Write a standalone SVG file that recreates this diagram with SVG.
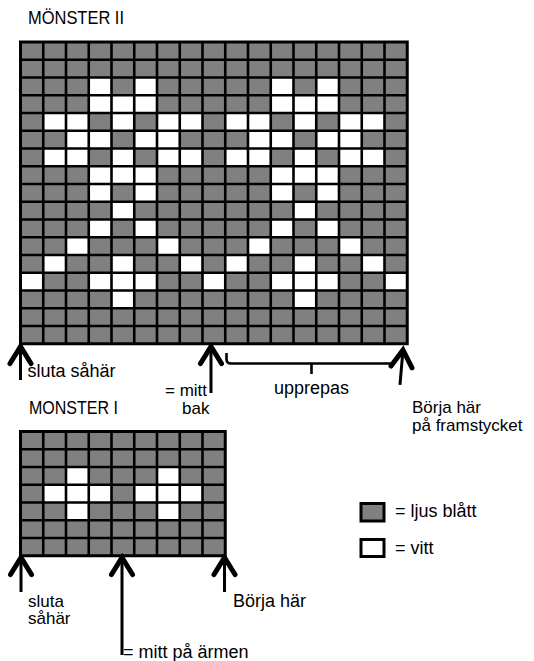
<svg xmlns="http://www.w3.org/2000/svg" xmlns:xlink="http://www.w3.org/1999/xlink" width="534" height="661" viewBox="0 0 534 661">
<style>
.bg{fill:#808080}
.w{fill:#ffffff}
.gl{fill:none;stroke:#000;stroke-width:2.6}
.ob{fill:none;stroke:#000;stroke-width:3}
.t{font-family:"Liberation Sans",Arial,sans-serif;font-size:18px;fill:#000}
.t2{font-family:"Liberation Sans",Arial,sans-serif;font-size:17px;fill:#000}
.sh{stroke:#000;stroke-width:3;fill:none;stroke-linecap:butt}
.hd{stroke:#000;stroke-width:5;fill:none;stroke-linejoin:miter;stroke-linecap:round}
.br{stroke:#000;stroke-width:2.6;fill:none}
</style>
<defs>
<rect id="c" width="22.75" height="17.75"/>
<path id="ah" d="M-10.5,17 L0,0 L10.5,17"/>
</defs>
<rect width="534" height="661" fill="#fff"/>

<g id="title2"><text class="t" x="28" y="24" textLength="96" lengthAdjust="spacingAndGlyphs">MÖNSTER II</text></g>

<g id="grid-monster2">
<rect class="bg" x="20.5" y="42" width="386.75" height="301.75"/>
<g class="w">
<use xlink:href="#c" x="88.75" y="77.5"/><use xlink:href="#c" x="134.25" y="77.5"/><use xlink:href="#c" x="270.75" y="77.5"/><use xlink:href="#c" x="316.25" y="77.5"/>
<use xlink:href="#c" x="88.75" y="95.25"/><use xlink:href="#c" x="111.5" y="95.25"/><use xlink:href="#c" x="134.25" y="95.25"/><use xlink:href="#c" x="270.75" y="95.25"/><use xlink:href="#c" x="293.5" y="95.25"/><use xlink:href="#c" x="316.25" y="95.25"/>
<use xlink:href="#c" x="43.25" y="113"/><use xlink:href="#c" x="66" y="113"/><use xlink:href="#c" x="111.5" y="113"/><use xlink:href="#c" x="157" y="113"/><use xlink:href="#c" x="179.75" y="113"/><use xlink:href="#c" x="225.25" y="113"/><use xlink:href="#c" x="248" y="113"/><use xlink:href="#c" x="293.5" y="113"/><use xlink:href="#c" x="339" y="113"/><use xlink:href="#c" x="361.75" y="113"/>
<use xlink:href="#c" x="66" y="130.75"/><use xlink:href="#c" x="88.75" y="130.75"/><use xlink:href="#c" x="134.25" y="130.75"/><use xlink:href="#c" x="157" y="130.75"/><use xlink:href="#c" x="248" y="130.75"/><use xlink:href="#c" x="270.75" y="130.75"/><use xlink:href="#c" x="316.25" y="130.75"/><use xlink:href="#c" x="339" y="130.75"/>
<use xlink:href="#c" x="43.25" y="148.5"/><use xlink:href="#c" x="66" y="148.5"/><use xlink:href="#c" x="111.5" y="148.5"/><use xlink:href="#c" x="157" y="148.5"/><use xlink:href="#c" x="179.75" y="148.5"/><use xlink:href="#c" x="225.25" y="148.5"/><use xlink:href="#c" x="248" y="148.5"/><use xlink:href="#c" x="293.5" y="148.5"/><use xlink:href="#c" x="339" y="148.5"/><use xlink:href="#c" x="361.75" y="148.5"/>
<use xlink:href="#c" x="88.75" y="166.25"/><use xlink:href="#c" x="111.5" y="166.25"/><use xlink:href="#c" x="134.25" y="166.25"/><use xlink:href="#c" x="270.75" y="166.25"/><use xlink:href="#c" x="293.5" y="166.25"/><use xlink:href="#c" x="316.25" y="166.25"/>
<use xlink:href="#c" x="88.75" y="184"/><use xlink:href="#c" x="134.25" y="184"/><use xlink:href="#c" x="270.75" y="184"/><use xlink:href="#c" x="316.25" y="184"/>
<use xlink:href="#c" x="111.5" y="201.75"/><use xlink:href="#c" x="293.5" y="201.75"/>
<use xlink:href="#c" x="88.75" y="219.5"/><use xlink:href="#c" x="134.25" y="219.5"/><use xlink:href="#c" x="270.75" y="219.5"/><use xlink:href="#c" x="316.25" y="219.5"/>
<use xlink:href="#c" x="66" y="237.25"/><use xlink:href="#c" x="157" y="237.25"/><use xlink:href="#c" x="248" y="237.25"/><use xlink:href="#c" x="339" y="237.25"/>
<use xlink:href="#c" x="43.25" y="255"/><use xlink:href="#c" x="111.5" y="255"/><use xlink:href="#c" x="179.75" y="255"/><use xlink:href="#c" x="225.25" y="255"/><use xlink:href="#c" x="293.5" y="255"/><use xlink:href="#c" x="361.75" y="255"/>
<use xlink:href="#c" x="20.5" y="272.75"/><use xlink:href="#c" x="88.75" y="272.75"/><use xlink:href="#c" x="111.5" y="272.75"/><use xlink:href="#c" x="134.25" y="272.75"/><use xlink:href="#c" x="202.5" y="272.75"/><use xlink:href="#c" x="270.75" y="272.75"/><use xlink:href="#c" x="293.5" y="272.75"/><use xlink:href="#c" x="316.25" y="272.75"/><use xlink:href="#c" x="384.5" y="272.75"/>
<use xlink:href="#c" x="111.5" y="290.5"/><use xlink:href="#c" x="293.5" y="290.5"/>
</g>
<path class="gl" d="M43.25,42V343.75M66,42V343.75M88.75,42V343.75M111.5,42V343.75M134.25,42V343.75M157,42V343.75M179.75,42V343.75M202.5,42V343.75M225.25,42V343.75M248,42V343.75M270.75,42V343.75M293.5,42V343.75M316.25,42V343.75M339,42V343.75M361.75,42V343.75M384.5,42V343.75
M20.5,59.75H407.25M20.5,77.5H407.25M20.5,95.25H407.25M20.5,113H407.25M20.5,130.75H407.25M20.5,148.5H407.25M20.5,166.25H407.25M20.5,184H407.25M20.5,201.75H407.25M20.5,219.5H407.25M20.5,237.25H407.25M20.5,255H407.25M20.5,272.75H407.25M20.5,290.5H407.25M20.5,308.25H407.25M20.5,326H407.25"/>
<rect class="ob" x="20.5" y="42" width="386.75" height="301.75"/>
</g>

<g id="grid-monster1">
<rect class="bg" x="20.5" y="431.5" width="204.75" height="124.25"/>
<g class="w">
<use xlink:href="#c" x="66" y="467"/><use xlink:href="#c" x="157" y="467"/>
<use xlink:href="#c" x="43.25" y="484.75"/><use xlink:href="#c" x="66" y="484.75"/><use xlink:href="#c" x="88.75" y="484.75"/><use xlink:href="#c" x="134.25" y="484.75"/><use xlink:href="#c" x="157" y="484.75"/><use xlink:href="#c" x="179.75" y="484.75"/>
<use xlink:href="#c" x="66" y="502.5"/><use xlink:href="#c" x="157" y="502.5"/>
</g>
<path class="gl" d="M43.25,431.5V555.75M66,431.5V555.75M88.75,431.5V555.75M111.5,431.5V555.75M134.25,431.5V555.75M157,431.5V555.75M179.75,431.5V555.75M202.5,431.5V555.75
M20.5,449.25H225.25M20.5,467H225.25M20.5,484.75H225.25M20.5,502.5H225.25M20.5,520.25H225.25M20.5,538H225.25"/>
<rect class="ob" x="20.5" y="431.5" width="204.75" height="124.25"/>
</g>

<g id="connectors">
<line class="sh" x1="20.5" y1="348" x2="20.5" y2="380"/>
<use class="hd" xlink:href="#ah" x="20.5" y="346.5"/>
<line class="sh" x1="211" y1="348" x2="211" y2="393"/>
<use class="hd" xlink:href="#ah" x="211" y="346.5"/>
<g transform="translate(403,350) rotate(5)">
<line class="sh" x1="0" y1="2" x2="0" y2="35"/>
<use class="hd" xlink:href="#ah"/>
</g>
<path class="br" d="M226.5,353V359Q226.5,363.5 231,363.5H395M311.5,363.5V374"/>
<line class="sh" x1="21" y1="559" x2="21" y2="592"/>
<use class="hd" xlink:href="#ah" x="21" y="557.5"/>
<line class="sh" x1="122" y1="559" x2="122" y2="655"/>
<use class="hd" xlink:href="#ah" x="122" y="557.5"/>
<line class="sh" x1="224.5" y1="559" x2="224.5" y2="592"/>
<use class="hd" xlink:href="#ah" x="224.5" y="557.5"/>
</g>

<g id="labels-monster2">
<text class="t" x="27.5" y="377">sluta såhär</text>
<text class="t2" x="165" y="396">= mitt</text>
<text class="t2" x="182" y="413.5">bak</text>
<text class="t" x="274" y="394">upprepas</text>
<text class="t2" x="412" y="413">Börja här</text>
<text class="t2" x="412" y="430.5">på framstycket</text>
</g>

<g id="title1"><text class="t" x="29" y="414" textLength="89" lengthAdjust="spacingAndGlyphs">MONSTER I</text></g>

<g id="labels-monster1">
<text class="t2" x="28" y="606.5">sluta</text>
<text class="t2" x="28" y="624">såhär</text>
<text class="t" x="233" y="607">Börja här</text>
<text class="t" x="123" y="658">= mitt på ärmen</text>
</g>

<g id="legend-ljusblatt">
<rect x="361" y="503.5" width="23" height="17.5" fill="#808080" stroke="#000" stroke-width="3"/>
<text class="t" x="395" y="517">= ljus blått</text>
</g>
<g id="legend-vitt">
<rect x="361" y="539.5" width="23" height="17" fill="#fff" stroke="#000" stroke-width="3"/>
<text class="t" x="395" y="554">= vitt</text>
</g>
</svg>
